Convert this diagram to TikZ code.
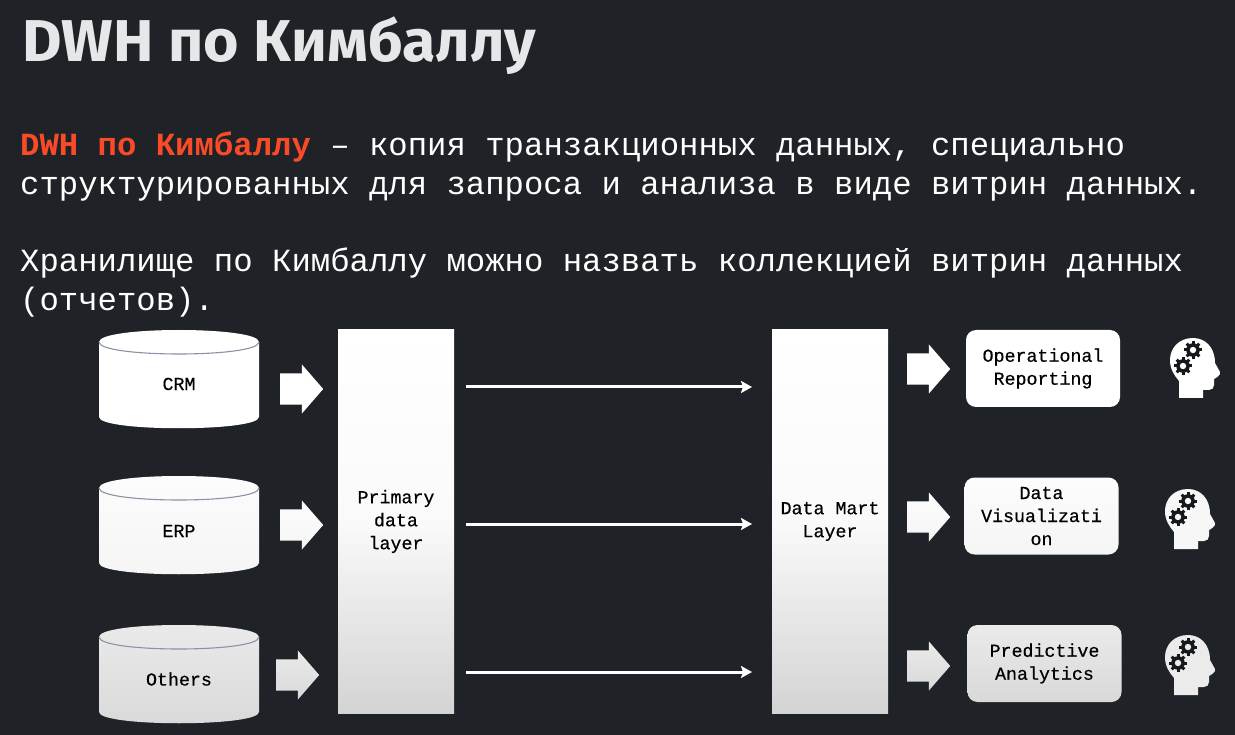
\documentclass[tikz,border=0pt]{standalone}
\usepackage{fontspec}
\setmainfont{Liberation Mono}
\newfontfamily\titlefont[FakeStretch=1.03]{Fira Sans}
\usetikzlibrary{shapes.arrows,arrows.meta}
\definecolor{slidebg}{HTML}{1F2327}
\definecolor{titlegray}{HTML}{E6E7E8}
\definecolor{accentred}{HTML}{FA4A28}
\definecolor{rimgray}{HTML}{8A93A3}
\definecolor{icondark}{HTML}{16191C}
\tikzset{
    bodyline/.style={anchor=base west,inner sep=0pt,text=white,font=\fontsize{32.3}{38}\selectfont},
    boxtext/.style={text=black,inner sep=0pt,align=center,font=\addfontfeature{FakeBold=0.4}\fontsize{18.3}{23}\selectfont},
    rowa/.style={top color=white,bottom color=white},
    rowb/.style={top color=white!99!black,bottom color=white!96!black},
    rowc/.style={top color=white!92!black,bottom color=white!85!black},
    layerbox/.style={boxtext,minimum width=116pt,minimum height=383pt,top color=white,bottom color=white!83!black,middle color=white!98!black},
    outbox/.style={boxtext,rounded corners=10pt,minimum width=154pt,minimum height=77pt},
    bigarrow/.style={single arrow,anchor=tail,inner xsep=0pt,inner ysep=12.5pt,minimum height=43pt,minimum width=49pt,single arrow tip angle=98},
    flowline/.style={-{Stealth[length=11pt,width=12pt,inset=2pt]},white,line width=3pt},
    headgear/.pic={
        \path [fill=#1] (29,73) -- (53,73) -- (53,65) -- (59,65) .. controls (62,65) and (64,63) .. (64,60) -- (64,54)
            .. controls (66,53) and (71,50) .. (70,47) -- (65,38) .. controls (65,22) and (55,13) .. (43,13)
            .. controls (29,13) and (20,23) .. (20,35) .. controls (20,44) and (24,50) .. (29,56) -- cycle;
        \foreach \cx/\cy in {43/25,33/41} {
            \fill [icondark] (\cx,\cy) circle [radius=6.8];
            \foreach \a in {0,45,...,315} {
                \draw [icondark,line width=3pt] (\cx,\cy) ++(\a:5) -- ++(\a:4);
            }
            \fill [#1] (\cx,\cy) circle [radius=3.2];
        }
    },
}
\begin{document}
\begin{tikzpicture}[x=1pt,y=-1pt]
    \useasboundingbox [fill=slidebg] (0,0) rectangle (1235,735);

    \node [anchor=base west,inner sep=0pt,text=titlegray,font=\titlefont\bfseries\fontsize{59}{60}\selectfont] (title) at (22,62) {DWH по Кимбаллу};

    \node [bodyline] (line1) at (20,156) {\textcolor{accentred}{\textbf{DWH по Кимбаллу}} – копия транзакционных данных, специально};
    \node [bodyline] (line2) at (20,195) {структурированных для запроса и анализа в виде витрин данных.};
    \node [bodyline] (line3) at (20,272) {Хранилище по Кимбаллу можно назвать коллекцией витрин данных};
    \node [bodyline] (line4) at (20,311) {(отчетов).};

    % sources
    \foreach \n/\t/\top/\y/\tone in {crm/CRM/342/384/rowa,erp/ERP/488/531/rowb,others/Others/637/679/rowc} {
        \path [\tone] (99,\top) .. controls (99,\top-16) and (259,\top-16) .. (259,\top) -- (259,\top+75)
            .. controls (259,\top+90) and (99,\top+90) .. (99,\top+75) -- cycle;
        \draw [rimgray,line width=1.1pt] (99,\top) .. controls (99,\top+16) and (259,\top+16) .. (259,\top);
        \node [boxtext] (\n) at (179,\y) {\t};
    }

    \node [bigarrow,rowa] (arrowa) at (280,389) {};
    \node [bigarrow,rowb] (arrowb) at (280,525) {};
    \node [bigarrow,rowc] (arrowc) at (276,675) {};

    \node [layerbox] (primary) at (396,521.5) {Primary\\data\\layer};
    \node [layerbox] (mart) at (830,521.5) {Data Mart\\Layer};

    \foreach \i/\y in {a/387,b/524,c/672} {
        \coordinate (out\i) at (466,\y);
        \coordinate (in\i) at (752,\y);
        \draw [flowline] (out\i) -- (in\i);
    }

    \node [bigarrow,rowa] (arrowd) at (907,369) {};
    \node [bigarrow,rowb] (arrowe) at (907,517) {};
    \node [bigarrow,rowc] (arrowf) at (907,666) {};

    \node [outbox,rowa] (opreport) at (1043,368.5) {Operational\\Reporting};
    \node [outbox,rowb] (dataviz) at (1041.5,516) {Data\\Visualizati\\on};
    \node [outbox,rowc] (predict) at (1044.5,663.5) {Predictive\\Analytics};

    % people
    \pic at (1150,325) {headgear=white};
    \pic at (1145,476) {headgear=white!97!black};
    \pic at (1145,622) {headgear=white!92!black};
\end{tikzpicture}
\end{document}
